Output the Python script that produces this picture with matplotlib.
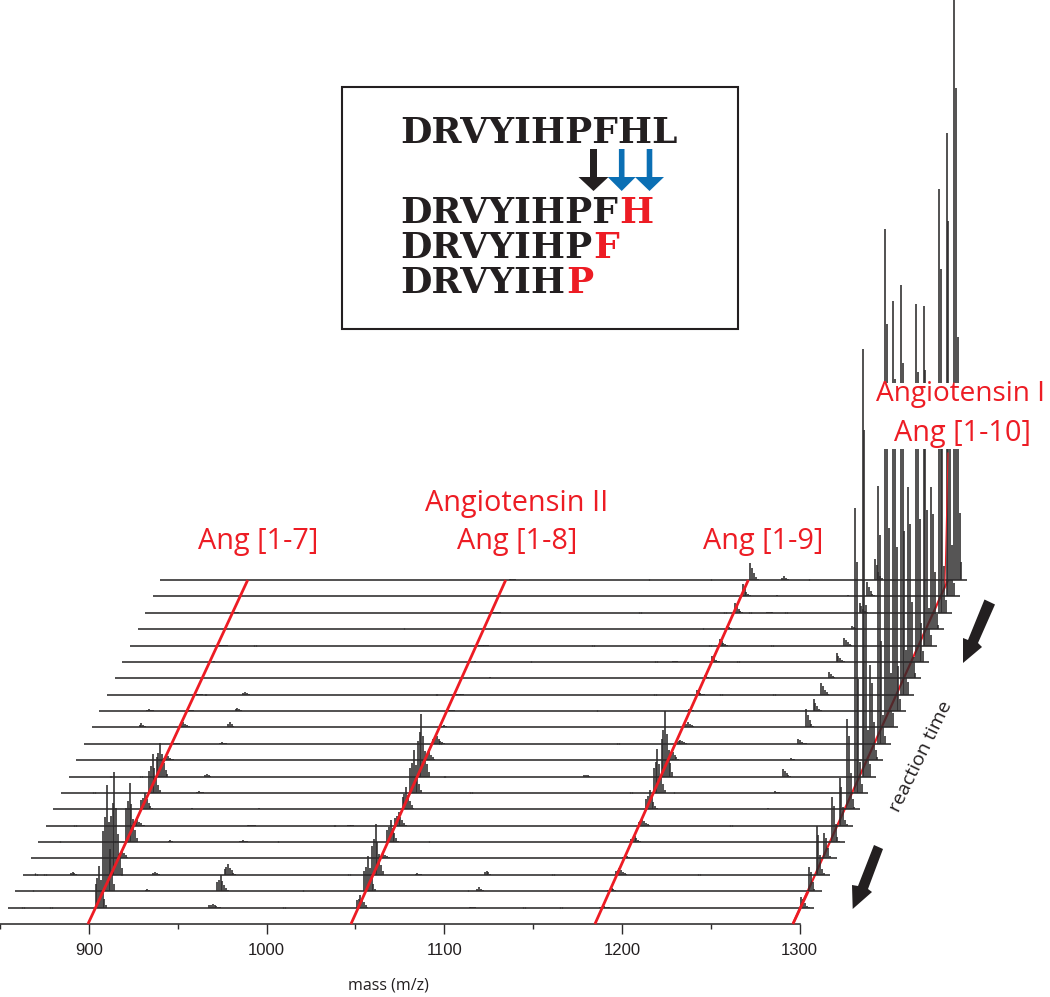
import matplotlib
matplotlib.use("Agg")
import matplotlib.pyplot as plt
from matplotlib.patches import Polygon, Rectangle

# ---------- data; heights in intensity units, rows bottom to top ----------
ROWS = 21
MZ_MIN, MZ_MAX = 850, 1300
ANG7_MZ = 899.5
ANG8_MZ = 1046.5
ANG9_MZ = 1183.6
ANG9_LATE_MZ = 1182.0
ANG10_MZ = 1296.7
IMP_1252_MZ = 1252.0
IMP_964_MZ = 963.5

ANG7_H = [42, 106, 103, 8, 59, 6, 16, 39, 34, 4, 1, 5, 1, 0.5, 0.5, 0.5, 0.5, 0.5, 0.5, 0.5, 0.5]
ANG8_H = [13, 35, 51, 5, 22, 14, 22, 43, 63, 8, 8, 2, 1, 0.5, 0.5, 0.5, 0.5, 0.5, 0.5, 0.5, 1]
ANG9_H = [1.5, 3, 7, 2, 6, 7, 19, 44, 66, 8, 4, 5, 0, 0, 0, 0, 0, 0, 0, 0, 0]
ANG9_LATE_H = [0, 0, 0, 0, 0, 0, 0, 0, 0, 0, 0, 0, 2, 5, 3, 6, 7, 3, 10, 12, 17]
ANG10_H = [11, 24, 49, 25, 45, 48, 90, 285, 428, 95, 258, 498, 410, 410, 191, 358, 340, 142, 424, 463, 607]
IMP_1252_H = [0, 0, 0, 0, 0, 0, 1, 2, 8, 2, 5, 18, 12, 12, 6, 9, 8, 3, 10, 14, 21]
IMP_964_H = [4, 16, 11, 0, 2, 1, 1, 0, 0, 0, 0, 0, 0, 0, 0, 0, 0, 0, 0, 0, 0]

PATTERN_TALL_THIRD = [0.57, 0.7, 1.0, 0.65, 0.4, 0.2, 0.07]
PATTERN_ANG10 = [1.0, 0.81, 0.4, 0.11, 0.03]
PATTERN_DECAY = [1.0, 0.7, 0.4, 0.2, 0.08]
PATTERN_SMALL = [0.6, 1.0, 0.6, 0.3]

SMALL_ROW = [2, 11, 12, 1, 2, 4, 6, 7, 8, 10, 11, 12, 13, 0, 1, 2, 2, 8, 5, 9, 14, 15, 19, 19, 20, 20, 18]
SMALL_MZ = [877, 877, 877, 923.4, 923.4, 923.4, 926.7, 926.7, 926.7, 926.7, 926.7, 926.7, 926.7,
            1110, 1110, 1110, 1071, 1140, 1020, 1185, 1060, 1160, 1200, 1240, 1200, 1270, 1200]
SMALL_H = [3, 4, 2, 2, 3, 2, 1, 2, 3, 2, 5, 3, 3, 1, 4, 4, 2, 2, 1, 1, 1, 1, 1.5, 1.5, 4, 1.5, 1]

NOISE_ROW = [0, 0, 0, 0, 1, 1, 1, 1, 2, 2, 2, 2, 2, 3, 3, 4, 4, 4, 4, 5, 5, 5, 6, 6, 6, 7, 7, 7, 8, 8, 8,
             9, 9, 10, 10, 11, 11, 12, 12, 13, 13, 14, 14, 15, 16, 16, 17, 18, 19, 20, 20, 3, 5, 7, 2, 1, 0,
             20, 20, 19, 19, 19, 18, 18, 18, 17, 16, 16, 15, 15, 14, 13, 13, 13]
NOISE_MZ = [858, 874, 1005, 1161, 860, 885, 1012, 1105, 857, 862, 905, 1033, 1148, 1020, 1240, 862, 893,
            985, 1070, 866, 888, 1012, 866, 1003, 1130, 868, 1080, 1170, 873, 890, 1061, 895, 1100,
            1050, 1150, 880, 1068, 900, 1130, 905, 1035, 910, 1176, 1080, 920, 1110, 1000, 1190, 1110,
            1125, 1160, 1150, 1235, 1195, 1230, 1260, 1140,
            1215, 1262, 1110, 1166, 1208, 1128, 1176, 1210, 1168, 1176, 1211, 1150, 1196, 1205, 1158, 1195, 1225]
NOISE_H = [0.8, 0.6, 0.7, 0.6, 1.0, 0.7, 0.8, 0.8, 1.5, 1.0, 0.8, 0.8, 1.0, 0.7, 0.6, 1.0, 0.7, 0.8, 1.0,
           1.0, 0.6, 0.8, 0.7, 0.8, 0.7, 0.9, 0.8, 0.8, 0.7, 0.7, 1.0, 0.7, 0.6, 0.8, 0.7, 0.7, 0.8,
           0.8, 0.7, 0.7, 0.8, 0.8, 0.7, 0.7, 0.7, 0.7, 0.8, 0.7, 0.8, 0.8, 0.8, 0.8, 0.8, 0.7, 0.8, 0.7, 0.7,
           0.8, 0.8, 0.9, 0.9, 0.8, 0.8, 1.0, 0.9, 0.8, 0.9, 0.8, 0.8, 0.9, 0.8, 0.8, 0.9, 0.8]

RED_LINE_MZ = [899.5, 1047.5, 1184.8]
RED_LINE_TOP_MZ = [989.4, 1134.6, 1271.1]
RED_LINE_10_MZ = 1296.2
RED_LINE_10_TOP_MZ = 1383.5
TICKS_MAJOR = [900, 1000, 1100, 1200, 1300]
TICKS_MINOR = [850, 950, 1050, 1150, 1250]
TICK_LABELS = ["900", "1000", "1100", "1200", "1300"]

SEQ_TOP = "DRVYIHPFHL"
SEQ_LINES = [("DRVYIHPF", "H"), ("DRVYIHP", "F"), ("DRVYIH", "P")]

# ---------- layout constants ----------
W, H = 1050, 997
PX_PER_MZ = 1.777
AXIS_Y = 73.0
ROW_DX = 7.64 / PX_PER_MZ
ROW_DY = 16.38
BLACK = "#2c2a2b"
RED = "#ed1c24"
BLUE = "#0b6fb4"

fig = plt.figure(figsize=(W / 100, H / 100), dpi=100, facecolor="white")
ax = fig.add_axes([0, 0, 1, 1])
ax.set_xlim(MZ_MIN, MZ_MIN + W / PX_PER_MZ)
ax.set_ylim(0, H)

def shift(row):
    return ROW_DX * (row + 1), AXIS_Y + ROW_DY * (row + 1)

def cluster(row, mz, height, pattern):
    if height <= 0:
        return
    dx, y0 = shift(row)
    xs = [mz + k + dx for k in range(len(pattern))]
    ys = [y0 + height * p for p in pattern]
    ax.vlines(xs, y0, ys, color=BLACK, lw=1.15, zorder=3)

for r in range(ROWS):
    dx, y0 = shift(r)
    ax.plot([MZ_MIN + dx, MZ_MAX + dx + 4], [y0, y0], color=BLACK, lw=1.15, zorder=3,
            solid_capstyle="butt")
    cluster(r, ANG7_MZ, ANG7_H[r], PATTERN_TALL_THIRD)
    cluster(r, ANG8_MZ, ANG8_H[r], PATTERN_TALL_THIRD)
    cluster(r, ANG9_MZ, ANG9_H[r], PATTERN_TALL_THIRD)
    cluster(r, ANG9_LATE_MZ, ANG9_LATE_H[r], PATTERN_DECAY)
    cluster(r, ANG10_MZ, ANG10_H[r], PATTERN_ANG10)
    cluster(r, IMP_1252_MZ, IMP_1252_H[r], PATTERN_DECAY)
    cluster(r, IMP_964_MZ, IMP_964_H[r], PATTERN_TALL_THIRD)

for r, m, h in zip(SMALL_ROW, SMALL_MZ, SMALL_H):
    cluster(r, m, h, PATTERN_SMALL)
for r, m, h in zip(NOISE_ROW, NOISE_MZ, NOISE_H):
    dx, y0 = shift(r)
    ax.vlines([m + dx, m + dx + 1], y0, [y0 + h, y0 + h * 0.6], color=BLACK, lw=0.9, zorder=3)

# reference lines following the row offset
_, top_y = shift(ROWS - 1)
for m, mt in zip(RED_LINE_MZ, RED_LINE_TOP_MZ):
    ax.plot([m, mt], [AXIS_Y, top_y], color=RED, lw=2.0, zorder=5, solid_capstyle="butt")
ax.plot([RED_LINE_10_MZ, RED_LINE_10_TOP_MZ], [AXIS_Y, top_y], color=RED, lw=1.6, zorder=2,
        solid_capstyle="butt")
low_dx, low_y = shift(1)
ax.plot([RED_LINE_10_MZ, RED_LINE_10_MZ + low_dx], [AXIS_Y, low_y], color=RED, lw=2.0, zorder=5,
        solid_capstyle="butt")

# axis
for s in ("top", "left", "right"):
    ax.spines[s].set_visible(False)
ax.spines["bottom"].set_position(("data", AXIS_Y))
ax.spines["bottom"].set_bounds(MZ_MIN, MZ_MAX)
ax.spines["bottom"].set_color(BLACK)
ax.spines["bottom"].set_linewidth(1.15)
ax.set_xticks(TICKS_MAJOR)
ax.set_xticks(TICKS_MINOR, minor=True)
ax.set_xticklabels(TICK_LABELS, family="Liberation Sans", fontsize=12, color="#231f20")
ax.set_yticks([])
ax.tick_params(axis="x", which="major", length=7.2, width=1.0, color=BLACK, pad=6.5)
ax.tick_params(axis="x", which="minor", length=3.6, width=1.0, color=BLACK)

def pxx(x):
    return x / W

def pxy(y):
    return 1 - y / H

def poly(pts, color, z=8):
    fig.add_artist(Polygon([(pxx(x), pxy(y)) for x, y in pts], closed=True, facecolor=color,
                           edgecolor="none", transform=fig.transFigure, zorder=z))

# white panel behind the Angiotensin I label
fig.add_artist(Rectangle((pxx(872), pxy(449)), (1050 - 872) / W, (449 - 383) / H, facecolor="white",
                         edgecolor="none", transform=fig.transFigure, zorder=6))
fig.add_artist(plt.Line2D([pxx(948), pxx(945)], [pxy(453), pxy(583)], color=RED, lw=0.8,
                          transform=fig.transFigure, zorder=7))

# red labels
LAB = dict(family="Open Sans", color=RED, ha="center", va="center", zorder=9)
for txt, x, y, fs in [("Ang [1-7]", 258, 541, 20.8), ("Angiotensin II", 517, 503, 20.8),
                      ("Ang [1-8]", 517, 541, 20.8), ("Ang [1-9]", 763, 541, 20.8),
                      ("Angiotensin I", 961, 394, 20.2), ("Ang [1-10]", 962, 434, 20.8)]:
    fig.text(pxx(x), pxy(y), txt, fontsize=fs, **LAB)

fig.text(pxx(388), pxy(985), "mass (m/z)", family="Open Sans", fontsize=11.5, color="#231f20",
         ha="center", va="center")
fig.text(pxx(921.5), pxy(756), "reaction time", family="Open Sans", fontsize=14, color="#231f20",
         ha="center", va="center", rotation=64, rotation_mode="anchor")

# inset box
fig.add_artist(Rectangle((pxx(342), pxy(329)), (738 - 342) / W, (329 - 87) / H, facecolor="white",
                         edgecolor="#231f20", lw=1.5, transform=fig.transFigure, zorder=1))
SEQ = dict(family="DejaVu Serif", fontweight="bold", fontsize=26, ha="left", va="baseline", zorder=9)
fig.text(pxx(400), pxy(143), SEQ_TOP, color="#231f20", **SEQ)
renderer = fig.canvas.get_renderer()
for (blk, rd), y in zip(SEQ_LINES, [223, 258, 293]):
    t = fig.text(pxx(400), pxy(y), blk, color="#231f20", **SEQ)
    end = t.get_window_extent(renderer).x1
    fig.text(pxx(end + 1.5), pxy(y), rd, color=RED, **SEQ)

def down_arrow(cx, half_shaft, half_head, color):
    poly([(cx - half_shaft, 149), (cx + half_shaft, 149), (cx + half_shaft, 177), (cx + half_head, 177),
          (cx, 191), (cx - half_head, 177), (cx - half_shaft, 177)], color)

down_arrow(593.5, 3.5, 15, "#231f20")
down_arrow(621.7, 2.8, 14, BLUE)
down_arrow(649.5, 2.8, 14.5, BLUE)

# big arrows
poly([(984.5, 599.5), (995, 604.5), (978, 643), (982, 647), (963, 663), (963, 638), (968, 640)], "#231f20")
poly([(874, 845), (883, 849), (868, 889), (872, 892), (852.7, 909), (852, 885), (858, 886)], "#231f20")

fig.savefig("out.png", dpi=100)
